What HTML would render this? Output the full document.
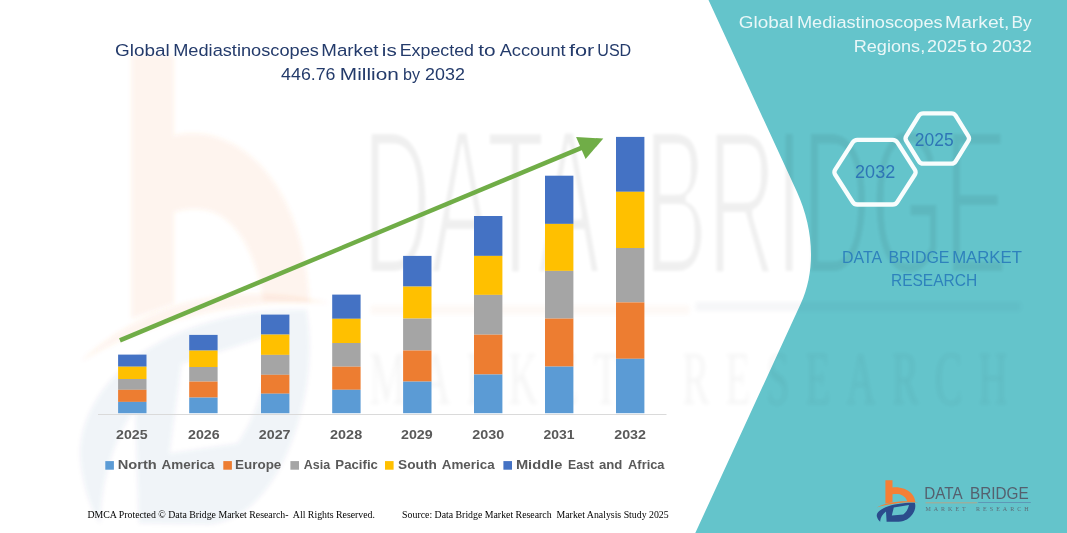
<!DOCTYPE html>
<html lang="en">
<head>
<meta charset="utf-8">
<title>Global Mediastinoscopes Market</title>
<style>
html,body{margin:0;padding:0;background:#fff;}
body{width:1067px;height:533px;overflow:hidden;}
svg{display:block;}
.sans{font-family:"Liberation Sans",sans-serif;}
.serif{font-family:"Liberation Serif",serif;}
</style>
</head>
<body>
<svg width="1067" height="533" viewBox="0 0 1067 533">
<rect x="0" y="0" width="1067" height="533" fill="#ffffff"/>
<path d="M708.5,0 L797,192 C813.1,227 816.7,269 800.6,304 L695.3,533 L1067,533 L1067,0 Z" fill="#64C4CB"/>
<defs><filter id="wmblur" x="-5%" y="-5%" width="110%" height="110%"><feGaussianBlur stdDeviation="2.2"/></filter><filter id="wmthin" x="-2%" y="-5%" width="104%" height="110%"><feMorphology operator="erode" radius="1.2 2.5"/><feGaussianBlur stdDeviation="1.8"/></filter></defs>
<g filter="url(#wmblur)">
<g transform="matrix(5.95,0,0,11.3,-5136.6,-5371.9)">
<path fill="#F57F35" opacity="0.085" d="M885.4,480.3 L892.5,480.3 L892.5,487.4 C899,486.5 907,488.5 911.5,493.5 C913.8,496 915,499 915.3,502.2 L907.5,502 C906.5,498 903,494.5 898,494 C896,493.8 894,493.9 892.5,494.2 L892.5,502.3 L885.4,503.6 Z"/>
<path fill="#F57F35" opacity="0.085" d="M876.8,507.4 C887,502.3 902,500.0 918.8,502.2 C902,501.8 888,503.9 876.8,507.4 Z"/>
<path fill="#2B4C8C" opacity="0.06" fill-rule="evenodd" d="M914.8,502.8 C904,502.6 893,504.2 885.5,507.2 C879,510 875.8,513.5 877,517 C877.6,519 878.8,520.8 880.2,521.8 C880.2,518.5 882,514.5 886,511.6 L886.6,521.7 L898.5,521.8 C906,521.5 912,517 914.5,510.5 C915.5,508 915.6,505 914.8,502.8 Z M893.8,507.6 L909,505 C908,509.5 906,512.5 903.2,514.6 L891.8,515.5 Z"/>
</g>
</g>
<g filter="url(#wmthin)" opacity="0.06">
<g transform="matrix(6.18,0,0,11.9,-5349.6,-5667.2)">
<text class="sans" x="924.35" y="499.30" font-size="17.4" fill="#000" textLength="38.37" lengthAdjust="spacingAndGlyphs">DATA</text>
<text class="sans" x="969.94" y="499.30" font-size="17.4" fill="#000" textLength="58.70" lengthAdjust="spacingAndGlyphs">BRIDGE</text>
</g>
</g>
<g filter="url(#wmblur)" opacity="0.04">
<g transform="matrix(6.18,0,0,11.56,-5349.6,-5502.4)">
<line x1="925.6" y1="502.8" x2="977.2" y2="502.8" stroke="#E07020" stroke-width="0.8"/>
<line x1="978.2" y1="502.5" x2="1030.8" y2="502.5" stroke="#203060" stroke-width="0.8"/>
<text class="serif" x="925.42" y="510.90" font-size="6.6" fill="#000" textLength="40.29" lengthAdjust="spacing">MARKET</text>
<text class="serif" x="976.02" y="510.90" font-size="6.6" fill="#000" textLength="52.68" lengthAdjust="spacing">RESEARCH</text>
</g>
</g>
<line x1="98" y1="414.5" x2="666.5" y2="414.5" stroke="#DADADA" stroke-width="1"/>
<rect x="118.1" y="354.6" width="28.4" height="12.1" fill="#4472C4"/>
<rect x="118.1" y="366.7" width="28.4" height="12.3" fill="#FFC000"/>
<rect x="118.1" y="379.0" width="28.4" height="10.8" fill="#A5A5A5"/>
<rect x="118.1" y="389.8" width="28.4" height="12.1" fill="#ED7D31"/>
<rect x="118.1" y="401.9" width="28.4" height="11.3" fill="#5B9BD5"/>
<rect x="189.2" y="334.9" width="28.4" height="15.7" fill="#4472C4"/>
<rect x="189.2" y="350.6" width="28.4" height="16.4" fill="#FFC000"/>
<rect x="189.2" y="367.0" width="28.4" height="14.6" fill="#A5A5A5"/>
<rect x="189.2" y="381.6" width="28.4" height="16.0" fill="#ED7D31"/>
<rect x="189.2" y="397.6" width="28.4" height="15.6" fill="#5B9BD5"/>
<rect x="261.0" y="314.6" width="28.4" height="20.0" fill="#4472C4"/>
<rect x="261.0" y="334.6" width="28.4" height="20.3" fill="#FFC000"/>
<rect x="261.0" y="354.9" width="28.4" height="19.9" fill="#A5A5A5"/>
<rect x="261.0" y="374.8" width="28.4" height="18.9" fill="#ED7D31"/>
<rect x="261.0" y="393.7" width="28.4" height="19.5" fill="#5B9BD5"/>
<rect x="332.2" y="294.6" width="28.4" height="24.2" fill="#4472C4"/>
<rect x="332.2" y="318.8" width="28.4" height="24.2" fill="#FFC000"/>
<rect x="332.2" y="343.0" width="28.4" height="23.7" fill="#A5A5A5"/>
<rect x="332.2" y="366.7" width="28.4" height="23.1" fill="#ED7D31"/>
<rect x="332.2" y="389.8" width="28.4" height="23.4" fill="#5B9BD5"/>
<rect x="403.1" y="255.9" width="28.4" height="30.7" fill="#4472C4"/>
<rect x="403.1" y="286.6" width="28.4" height="32.0" fill="#FFC000"/>
<rect x="403.1" y="318.6" width="28.4" height="31.9" fill="#A5A5A5"/>
<rect x="403.1" y="350.5" width="28.4" height="31.1" fill="#ED7D31"/>
<rect x="403.1" y="381.6" width="28.4" height="31.6" fill="#5B9BD5"/>
<rect x="474.0" y="216.0" width="28.4" height="39.9" fill="#4472C4"/>
<rect x="474.0" y="255.9" width="28.4" height="39.0" fill="#FFC000"/>
<rect x="474.0" y="294.9" width="28.4" height="39.8" fill="#A5A5A5"/>
<rect x="474.0" y="334.7" width="28.4" height="39.8" fill="#ED7D31"/>
<rect x="474.0" y="374.5" width="28.4" height="38.7" fill="#5B9BD5"/>
<rect x="545.0" y="175.7" width="28.4" height="48.2" fill="#4472C4"/>
<rect x="545.0" y="223.9" width="28.4" height="47.0" fill="#FFC000"/>
<rect x="545.0" y="270.9" width="28.4" height="47.7" fill="#A5A5A5"/>
<rect x="545.0" y="318.6" width="28.4" height="48.0" fill="#ED7D31"/>
<rect x="545.0" y="366.6" width="28.4" height="46.6" fill="#5B9BD5"/>
<rect x="616.0" y="136.9" width="28.4" height="54.9" fill="#4472C4"/>
<rect x="616.0" y="191.8" width="28.4" height="56.2" fill="#FFC000"/>
<rect x="616.0" y="248.0" width="28.4" height="54.4" fill="#A5A5A5"/>
<rect x="616.0" y="302.4" width="28.4" height="56.4" fill="#ED7D31"/>
<rect x="616.0" y="358.8" width="28.4" height="54.4" fill="#5B9BD5"/>
<line x1="119.9" y1="340.4" x2="582" y2="147.6" stroke="#70AD47" stroke-width="4.5"/>
<polygon points="576.1,136.9 603.3,138.5 585.6,159.1" fill="#70AD47"/>
<text class="sans" x="116.02" y="438.90" font-size="13.4" fill="#595959" textLength="31.57" lengthAdjust="spacingAndGlyphs" font-weight="bold">2025</text>
<text class="sans" x="188.02" y="438.90" font-size="13.4" fill="#595959" textLength="31.69" lengthAdjust="spacingAndGlyphs" font-weight="bold">2026</text>
<text class="sans" x="258.82" y="438.90" font-size="13.4" fill="#595959" textLength="31.71" lengthAdjust="spacingAndGlyphs" font-weight="bold">2027</text>
<text class="sans" x="330.11" y="438.90" font-size="13.4" fill="#595959" textLength="32.03" lengthAdjust="spacingAndGlyphs" font-weight="bold">2028</text>
<text class="sans" x="401.02" y="438.90" font-size="13.4" fill="#595959" textLength="31.71" lengthAdjust="spacingAndGlyphs" font-weight="bold">2029</text>
<text class="sans" x="472.31" y="438.90" font-size="13.4" fill="#595959" textLength="31.97" lengthAdjust="spacingAndGlyphs" font-weight="bold">2030</text>
<text class="sans" x="543.53" y="438.90" font-size="13.4" fill="#595959" textLength="31.06" lengthAdjust="spacingAndGlyphs" font-weight="bold">2031</text>
<text class="sans" x="614.21" y="438.90" font-size="13.4" fill="#595959" textLength="31.75" lengthAdjust="spacingAndGlyphs" font-weight="bold">2032</text>
<rect x="105.3" y="461.1" width="8.6" height="8.6" fill="#5B9BD5"/>
<text class="sans" x="117.73" y="469.10" font-size="13.5" fill="#595959" textLength="39.08" lengthAdjust="spacingAndGlyphs" font-weight="bold">North</text>
<text class="sans" x="161.58" y="469.10" font-size="13.5" fill="#595959" textLength="53.03" lengthAdjust="spacingAndGlyphs" font-weight="bold">America</text>
<rect x="223.3" y="461.1" width="8.6" height="8.6" fill="#ED7D31"/>
<text class="sans" x="235.01" y="469.10" font-size="13.5" fill="#595959" textLength="46.34" lengthAdjust="spacingAndGlyphs" font-weight="bold">Europe</text>
<rect x="290.4" y="461.1" width="8.6" height="8.6" fill="#A5A5A5"/>
<text class="sans" x="303.70" y="469.10" font-size="13.5" fill="#595959" textLength="26.42" lengthAdjust="spacingAndGlyphs" font-weight="bold">Asia</text>
<text class="sans" x="335.33" y="469.10" font-size="13.5" fill="#595959" textLength="42.56" lengthAdjust="spacingAndGlyphs" font-weight="bold">Pacific</text>
<rect x="385.0" y="461.1" width="8.6" height="8.6" fill="#FFC000"/>
<text class="sans" x="398.12" y="469.10" font-size="13.5" fill="#595959" textLength="38.72" lengthAdjust="spacingAndGlyphs" font-weight="bold">South</text>
<text class="sans" x="441.78" y="469.10" font-size="13.5" fill="#595959" textLength="52.82" lengthAdjust="spacingAndGlyphs" font-weight="bold">America</text>
<rect x="503.4" y="461.1" width="8.6" height="8.6" fill="#4472C4"/>
<text class="sans" x="515.93" y="469.10" font-size="13.5" fill="#595959" textLength="46.37" lengthAdjust="spacingAndGlyphs" font-weight="bold">Middle</text>
<text class="sans" x="567.99" y="469.10" font-size="13.5" fill="#595959" textLength="25.86" lengthAdjust="spacingAndGlyphs" font-weight="bold">East</text>
<text class="sans" x="598.92" y="469.10" font-size="13.5" fill="#595959" textLength="23.45" lengthAdjust="spacingAndGlyphs" font-weight="bold">and</text>
<text class="sans" x="628.09" y="469.10" font-size="13.5" fill="#595959" textLength="36.42" lengthAdjust="spacingAndGlyphs" font-weight="bold">Africa</text>
<text class="sans" x="115.05" y="55.80" font-size="17.4" fill="#243B6B" textLength="54.71" lengthAdjust="spacingAndGlyphs">Global</text>
<text class="sans" x="173.21" y="55.80" font-size="17.4" fill="#243B6B" textLength="145.66" lengthAdjust="spacingAndGlyphs">Mediastinoscopes</text>
<text class="sans" x="321.37" y="55.80" font-size="17.4" fill="#243B6B" textLength="57.17" lengthAdjust="spacingAndGlyphs">Market</text>
<text class="sans" x="381.84" y="55.80" font-size="17.4" fill="#243B6B" textLength="14.91" lengthAdjust="spacingAndGlyphs">is</text>
<text class="sans" x="399.74" y="55.80" font-size="17.4" fill="#243B6B" textLength="74.21" lengthAdjust="spacingAndGlyphs">Expected</text>
<text class="sans" x="478.29" y="55.80" font-size="17.4" fill="#243B6B" textLength="17.37" lengthAdjust="spacingAndGlyphs">to</text>
<text class="sans" x="499.66" y="55.80" font-size="17.4" fill="#243B6B" textLength="65.97" lengthAdjust="spacingAndGlyphs">Account</text>
<text class="sans" x="568.90" y="55.80" font-size="17.4" fill="#243B6B" textLength="25.35" lengthAdjust="spacingAndGlyphs">for</text>
<text class="sans" x="597.26" y="55.80" font-size="17.4" fill="#243B6B" textLength="34.00" lengthAdjust="spacingAndGlyphs">USD</text>
<text class="sans" x="281.11" y="80.10" font-size="17.4" fill="#243B6B" textLength="54.37" lengthAdjust="spacingAndGlyphs">446.76</text>
<text class="sans" x="339.89" y="80.10" font-size="17.4" fill="#243B6B" textLength="58.94" lengthAdjust="spacingAndGlyphs">Million</text>
<text class="sans" x="402.97" y="80.10" font-size="17.4" fill="#243B6B" textLength="17.07" lengthAdjust="spacingAndGlyphs">by</text>
<text class="sans" x="425.11" y="80.10" font-size="17.4" fill="#243B6B" textLength="39.80" lengthAdjust="spacingAndGlyphs">2032</text>
<text class="sans" x="738.75" y="27.70" font-size="17.4" fill="#EAF7F8" textLength="54.71" lengthAdjust="spacingAndGlyphs">Global</text>
<text class="sans" x="796.91" y="27.70" font-size="17.4" fill="#EAF7F8" textLength="145.76" lengthAdjust="spacingAndGlyphs">Mediastinoscopes</text>
<text class="sans" x="945.12" y="27.70" font-size="17.4" fill="#EAF7F8" textLength="64.21" lengthAdjust="spacingAndGlyphs">Market,</text>
<text class="sans" x="1011.38" y="27.70" font-size="17.4" fill="#EAF7F8" textLength="20.26" lengthAdjust="spacingAndGlyphs">By</text>
<text class="sans" x="853.71" y="51.50" font-size="17.4" fill="#EAF7F8" textLength="71.51" lengthAdjust="spacingAndGlyphs">Regions,</text>
<text class="sans" x="927.00" y="51.50" font-size="17.4" fill="#EAF7F8" textLength="40.05" lengthAdjust="spacingAndGlyphs">2025</text>
<text class="sans" x="969.88" y="51.50" font-size="17.4" fill="#EAF7F8" textLength="17.79" lengthAdjust="spacingAndGlyphs">to</text>
<text class="sans" x="992.11" y="51.50" font-size="17.4" fill="#EAF7F8" textLength="39.80" lengthAdjust="spacingAndGlyphs">2032</text>
<g fill="none" stroke="#F8FDFD" stroke-width="4.3" stroke-linejoin="round">
<path d="M835.22,174.73 Q833.60,172.20 835.22,169.67 L852.68,142.43 Q854.30,139.90 857.30,139.90 L892.70,139.90 Q895.70,139.90 897.32,142.43 L914.78,169.67 Q916.40,172.20 914.78,174.73 L897.32,201.97 Q895.70,204.50 892.70,204.50 L857.30,204.50 Q854.30,204.50 852.68,201.97 Z"/>
<path d="M906.27,140.88 Q904.80,138.50 906.27,136.12 L918.93,115.68 Q920.40,113.30 923.20,113.30 L951.40,113.30 Q954.20,113.30 955.67,115.68 L968.33,136.12 Q969.80,138.50 968.33,140.88 L955.67,161.32 Q954.20,163.70 951.40,163.70 L923.20,163.70 Q920.40,163.70 918.93,161.32 Z"/>
</g>
<text class="sans" x="855.10" y="177.70" font-size="17.8" fill="#2E75B6" textLength="40.11" lengthAdjust="spacingAndGlyphs">2032</text>
<text class="sans" x="914.83" y="145.70" font-size="17.8" fill="#2E75B6" textLength="38.80" lengthAdjust="spacingAndGlyphs">2025</text>
<text class="sans" x="842.09" y="262.50" font-size="17.3" fill="#2E82BC" textLength="40.13" lengthAdjust="spacingAndGlyphs">DATA</text>
<text class="sans" x="888.39" y="262.50" font-size="17.3" fill="#2E82BC" textLength="61.08" lengthAdjust="spacingAndGlyphs">BRIDGE</text>
<text class="sans" x="952.13" y="262.50" font-size="17.3" fill="#2E82BC" textLength="69.76" lengthAdjust="spacingAndGlyphs">MARKET</text>
<text class="sans" x="890.93" y="286.30" font-size="17.3" fill="#2E82BC" textLength="86.33" lengthAdjust="spacingAndGlyphs">RESEARCH</text>
<text class="serif" x="87.4" y="517.7" font-size="9.8" fill="#000" textLength="287.6" lengthAdjust="spacingAndGlyphs" xml:space="preserve">DMCA Protected © Data Bridge Market Research-  All Rights Reserved.</text>
<text class="serif" x="402.1" y="517.5" font-size="9.8" fill="#000" textLength="266.6" lengthAdjust="spacingAndGlyphs" xml:space="preserve">Source: Data Bridge Market Research  Market Analysis Study 2025</text>
<g>
<path fill="#F57F35" opacity="1" d="M885.4,480.3 L892.5,480.3 L892.5,487.4 C899,486.5 907,488.5 911.5,493.5 C913.8,496 915,499 915.3,502.2 L907.5,502 C906.5,498 903,494.5 898,494 C896,493.8 894,493.9 892.5,494.2 L892.5,502.3 L885.4,503.6 Z"/>
<path fill="#F57F35" opacity="1" d="M876.8,507.4 C887,502.3 902,500.0 918.8,502.2 C902,501.8 888,503.9 876.8,507.4 Z"/>
<path fill="#2B4C8C" opacity="1" fill-rule="evenodd" d="M914.8,502.8 C904,502.6 893,504.2 885.5,507.2 C879,510 875.8,513.5 877,517 C877.6,519 878.8,520.8 880.2,521.8 C880.2,518.5 882,514.5 886,511.6 L886.6,521.7 L898.5,521.8 C906,521.5 912,517 914.5,510.5 C915.5,508 915.6,505 914.8,502.8 Z M893.8,507.6 L909,505 C908,509.5 906,512.5 903.2,514.6 L891.8,515.5 Z"/>
<text class="sans" x="924.35" y="499.30" font-size="17.4" fill="#55606E" textLength="38.37" lengthAdjust="spacingAndGlyphs">DATA</text>
<text class="sans" x="969.94" y="499.30" font-size="17.4" fill="#55606E" textLength="58.70" lengthAdjust="spacingAndGlyphs">BRIDGE</text>
<line x1="925.6" y1="502.8" x2="977.2" y2="502.8" stroke="#C79E7A" stroke-width="0.8"/>
<line x1="978.2" y1="502.5" x2="1030.8" y2="502.5" stroke="#5C8DB0" stroke-width="0.8"/>
<text class="serif" x="925.43" y="510.90" font-size="6" fill="#5D6C78" textLength="40.27" lengthAdjust="spacing">MARKET</text>
<text class="serif" x="976.03" y="510.90" font-size="6" fill="#5D6C78" textLength="52.64" lengthAdjust="spacing">RESEARCH</text>
</g>
</svg>
</body>
</html>
